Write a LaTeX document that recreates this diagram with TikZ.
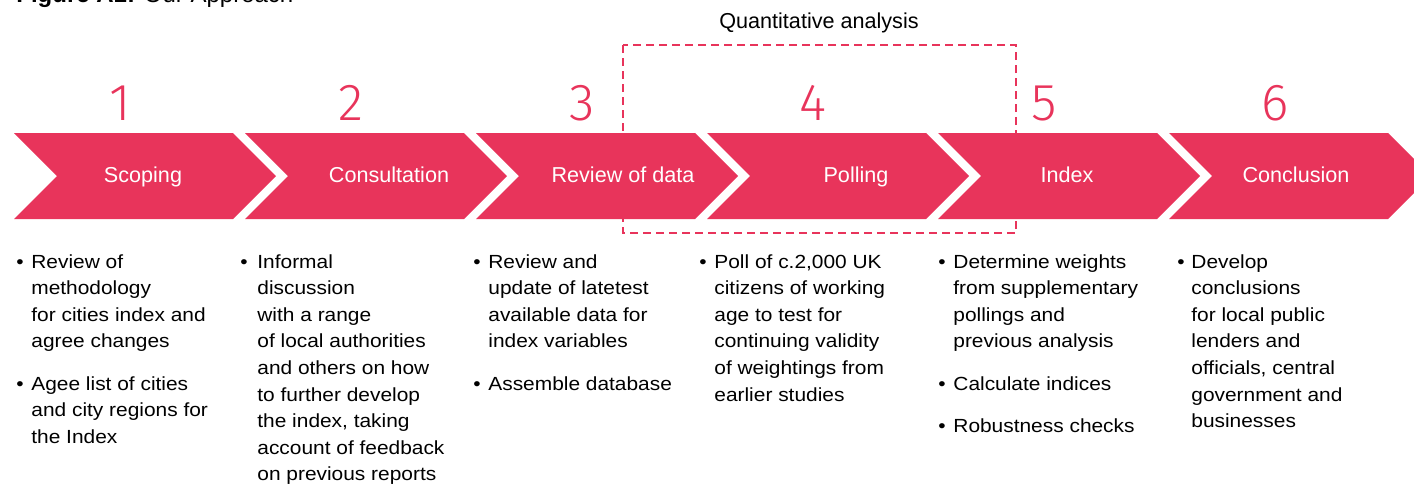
\documentclass[tikz,border=0pt]{standalone}
\usepackage{fontspec}
\setmainfont{Liberation Sans}
\newfontfamily\bodyfont[FakeStretch=1.1]{Liberation Sans}
\newfontfamily\numfont{Fira Sans Light}
\usetikzlibrary{calc}
\definecolor{stepred}{HTML}{E8345B}
% lines of a list item, hung from the first baseline
\newcommand{\itemlines}[1]{\begin{tabular}[t]{@{}l@{}}#1\end{tabular}}
\tikzset{
    chevlabel/.style={text=white, anchor=base, font=\fontsize{10.8}{13}\selectfont},
    stepnum/.style={text=stepred, anchor=base, font=\numfont\fontsize{26}{30}\selectfont},
    itemtext/.style={anchor=base west, inner sep=0pt, font=\bodyfont\fontsize{9.5}{13.3}\selectfont},
    itemdot/.style={anchor=base, inner sep=0pt, font=\bodyfont\fontsize{9.5}{13.3}\selectfont},
}

\begin{document}
\begin{tikzpicture}[x=0.5pt,y=-0.5pt]
	\useasboundingbox (0,0) rectangle (1414,483);

	% title, cut off by the page
	\node[anchor=base west, inner sep=0pt, font=\fontsize{12}{14}\selectfont] (title) at (16,2) {\textbf{Figure A1:} Our Approach};

	% quantitative frame (behind the chevrons)
	\draw[stepred, line width=0.75pt, dash pattern=on 4pt off 2.5pt] (623,45) rectangle (1016,233);
	\node[anchor=base, font=\fontsize{10.8}{13}\selectfont] (quant) at (819,28) {Quantitative analysis};

	% chevrons
	\foreach \i/\lab/\lx in {1/Scoping/143, 2/Consultation/389, 3/Review of data/623, 4/Polling/856, 5/Index/1067, 6/Conclusion/1296}{
		\pgfmathsetmacro{\L}{14+231*(\i-1)}
		\fill[stepred] (\L,133) -- ++(219,0) -- ++(43,43) -- ++(-43,43) -- ++(-219,0) -- ++(43,-43) -- cycle;
		\node[chevlabel] (lab\i) at (\lx,182) {\lab};
		\node[stepnum] (num\i) at (\L+106,120) {\i};
	}

	% bullet lists
	\node[itemdot] (d1a) at (20,268) {\textbullet};
	\node[itemtext] (t1a) at (31,268) {\itemlines{Review of\\methodology\\for cities index and\\agree changes}};
	\node[itemdot] (d1b) at (20,390) {\textbullet};
	\node[itemtext] (t1b) at (31,390) {\itemlines{Agee list of cities\\and city regions for\\the Index}};

	\node[itemdot] (d2a) at (244,268) {\textbullet};
	\node[itemtext] (t2a) at (257,268) {\itemlines{Informal\\discussion\\with a range\\of local authorities\\and others on how\\to further develop\\the index, taking\\account of feedback\\on previous reports}};

	\node[itemdot] (d3a) at (477,268) {\textbullet};
	\node[itemtext] (t3a) at (488,268) {\itemlines{Review and\\update of latetest\\available data for\\index variables}};
	\node[itemdot] (d3b) at (477,390) {\textbullet};
	\node[itemtext] (t3b) at (488,390) {Assemble database};

	\node[itemdot] (d4a) at (703,268) {\textbullet};
	\node[itemtext] (t4a) at (714,268) {\itemlines{Poll of c.2,000 UK\\citizens of working\\age to test for\\continuing validity\\of weightings from\\earlier studies}};

	\node[itemdot] (d5a) at (942,268) {\textbullet};
	\node[itemtext] (t5a) at (953,268) {\itemlines{Determine weights\\from supplementary\\pollings and\\previous analysis}};
	\node[itemdot] (d5b) at (942,390) {\textbullet};
	\node[itemtext] (t5b) at (953,390) {Calculate indices};
	\node[itemdot] (d5c) at (942,432) {\textbullet};
	\node[itemtext] (t5c) at (953,432) {Robustness checks};

	\node[itemdot] (d6a) at (1181,268) {\textbullet};
	\node[itemtext] (t6a) at (1191,268) {\itemlines{Develop\\conclusions\\for local public\\lenders and\\officials, central\\government and\\businesses}};
\end{tikzpicture}
\end{document}
